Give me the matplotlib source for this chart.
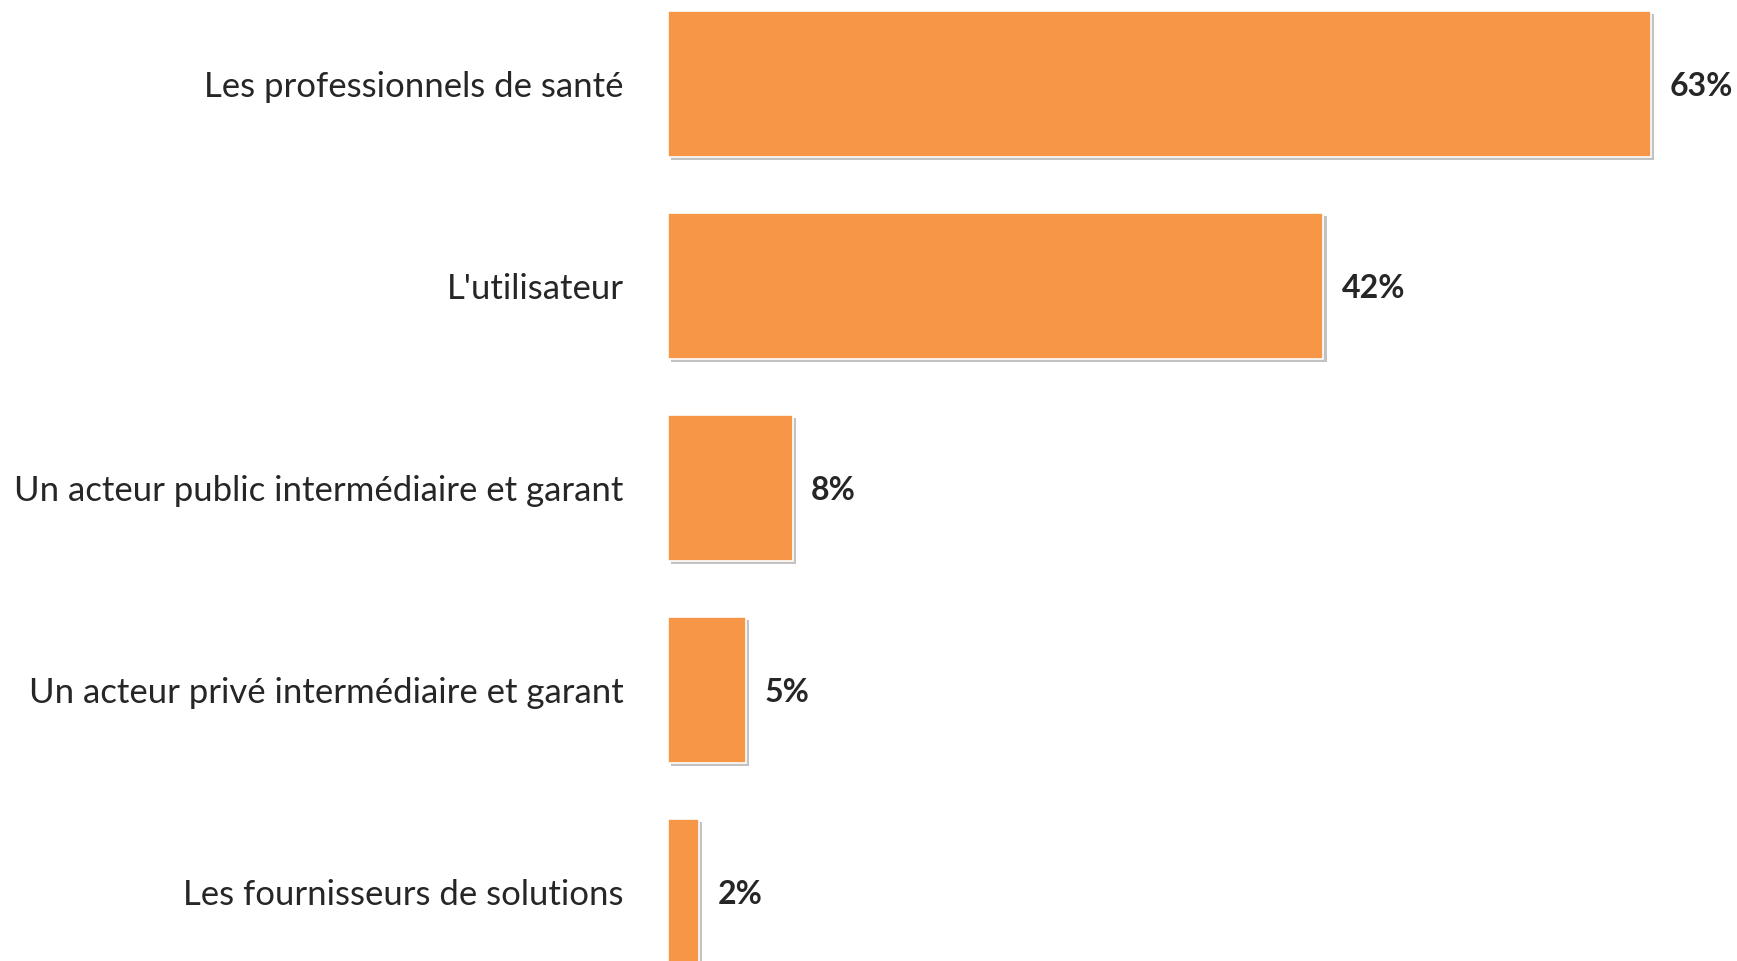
import matplotlib
matplotlib.use("Agg")
import matplotlib.pyplot as plt
import matplotlib.patheffects as pe

# données
categories = ["Les professionnels de santé",
              "L'utilisateur",
              "Un acteur public intermédiaire et garant",
              "Un acteur privé intermédiaire et garant",
              "Les fournisseurs de solutions"]
values = [63, 42, 8, 5, 2]
value_labels = ["63%", "42%", "8%", "5%", "2%"]

bar_color = "#F79646"
text_color = "#262626"

plt.rcParams['font.family'] = ['Lato', 'DejaVu Sans']

fig = plt.figure(figsize=(17.37, 9.61), dpi=100)
ax = fig.add_axes([668 / 1737, 0.0, 1 - 668 / 1737, 1.0])

pos = list(range(len(categories)))
bars = ax.barh(pos, values, height=0.72, color=bar_color,
               edgecolor="white", linewidth=1.2)
for b in bars:
    b.set_path_effects([pe.SimplePatchShadow(offset=(2.2, -2.2),
                                             shadow_rgbFace="#9a9a9a",
                                             alpha=0.6),
                        pe.Normal()])

# étiquettes de valeur
for i, (v, lab) in enumerate(zip(values, value_labels)):
    ax.annotate(lab, xy=(v, i), xytext=(13, -2), textcoords="offset points",
                ha="left", va="center", fontsize=23, fontweight="bold",
                color=text_color)

ax.set_yticks(pos)
ax.set_yticklabels(categories, fontsize=25, color=text_color)
ax.tick_params(axis="y", length=0, pad=32)
ax.set_xticks([])
ax.set_xlim(0, 68.5)
ax.set_ylim(4.342, -0.416)
for s in ax.spines.values():
    s.set_visible(False)

fig.savefig("out.png", dpi=100, facecolor="white")
